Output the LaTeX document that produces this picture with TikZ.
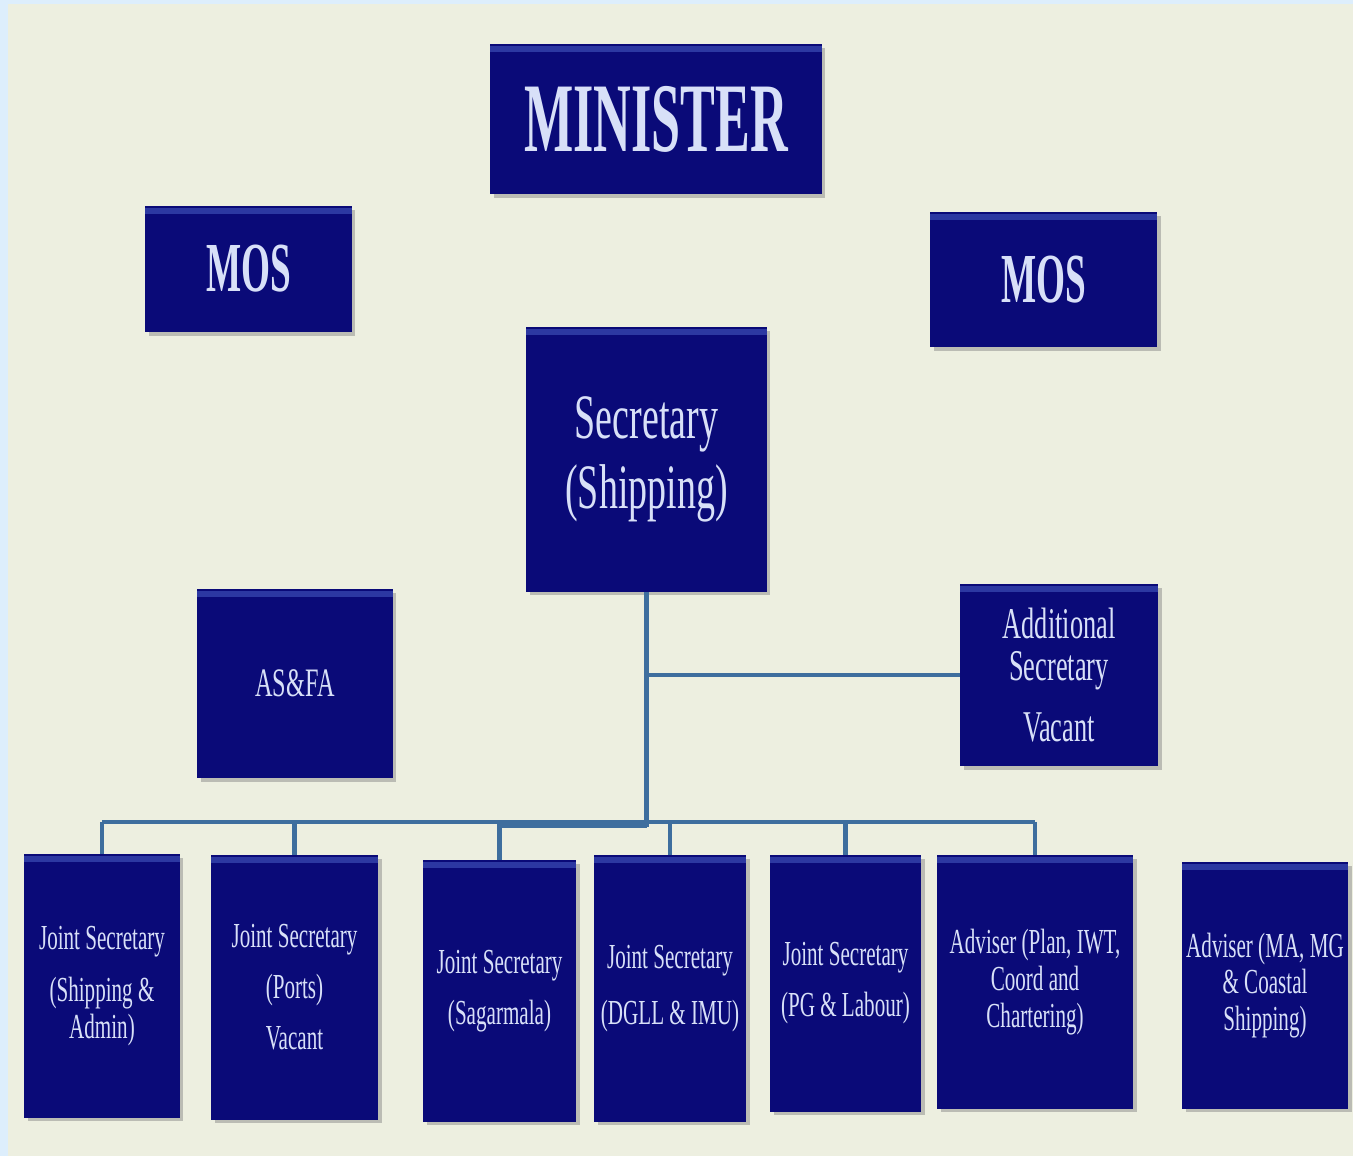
\documentclass[tikz,border=0pt]{standalone}
\usepackage{fontspec}
\setmainfont{Liberation Serif}[FakeStretch=0.6]
\newfontfamily\condbold{Liberation Serif}[FakeStretch=0.53]
\usetikzlibrary{shadows}

\definecolor{navy}{HTML}{0A0A78}
\definecolor{bevel}{HTML}{2C38A2}
\definecolor{postext}{HTML}{D8E0F8}
\definecolor{linkblue}{HTML}{3E6E9E}
\definecolor{cream}{HTML}{EDEFE0}
\definecolor{paleblue}{HTML}{DDEEFC}

\tikzset{
  post/.style={rectangle, fill=navy, text=postext, align=center, inner sep=0pt,
    drop shadow={shadow xshift=2pt, shadow yshift=-2pt, opacity=0.45},
    path picture={\fill[bevel]
      ([yshift=-0.04cm]path picture bounding box.north west) rectangle ([yshift=-0.16cm]path picture bounding box.north east);}},
  conn/.style={draw=linkblue, line width=2.3pt},
  lowpost/.style={post, font=\fontsize{20}{21}\selectfont}
}

\begin{document}
\begin{tikzpicture}[x=0.02cm, y=-0.02cm]
\fill[paleblue] (0,0) rectangle (1353,1156);
\fill[cream] (8,4) rectangle (1353,1156);
\useasboundingbox (0,0) rectangle (1353,1156);

\node[post, minimum width=6.64cm, minimum height=3.0cm, font=\condbold\bfseries\fontsize{56}{60}\selectfont] (minister) at (656,119) {MINISTER};
\node[post, minimum width=4.14cm, minimum height=2.52cm, font=\condbold\bfseries\fontsize{40}{44}\selectfont] (mosl) at (248.5,269) {MOS};
\node[post, minimum width=4.54cm, minimum height=2.7cm, font=\condbold\bfseries\fontsize{40}{44}\selectfont] (mosr) at (1043.5,279.5) {MOS};
\node[post, minimum width=4.82cm, minimum height=5.3cm, font=\fontsize{36}{40}\selectfont] (sec) at (646.5,459.5) {Secretary\\(Shipping)};
\node[post, minimum width=3.92cm, minimum height=3.78cm, font=\fontsize{23}{26}\selectfont] (asfa) at (295,683.5) {AS\&FA};
\node[post, minimum width=3.96cm, minimum height=3.64cm, font=\fontsize{25}{24}\selectfont] (addl) at (1059,675) {Additional\\Secretary\\[11pt]Vacant};

\node[lowpost, minimum width=3.12cm, minimum height=5.28cm] (js1) at (102,986) {Joint Secretary\\[9pt](Shipping \&\\Admin)};
\node[lowpost, minimum width=3.34cm, minimum height=5.3cm] (js2) at (294.5,987.5) {Joint Secretary\\[8pt](Ports)\\[8pt]Vacant};
\node[lowpost, minimum width=3.06cm, minimum height=5.24cm] (js3) at (499.5,991) {Joint Secretary\\[8pt](Sagarmala)};
\node[lowpost, minimum width=3.04cm, minimum height=5.34cm] (js4) at (670,988.5) {Joint Secretary\\[11pt](DGLL \& IMU)};
\node[lowpost, minimum width=3.02cm, minimum height=5.14cm] (js5) at (845.5,983.5) {Joint Secretary\\[8pt](PG \& Labour)};
\node[lowpost, minimum width=3.92cm, minimum height=5.08cm] (adv1) at (1035,982) {Adviser (Plan, IWT,\\Coord and\\Chartering)};
\node[lowpost, minimum width=3.32cm, minimum height=4.94cm] (adv2) at (1265,985.5) {Adviser (MA, MG\\\& Coastal\\Shipping)};

\coordinate (bus) at (646,822);
\draw[conn] (sec.south) -- (sec.south |- 0,827);
\draw[conn] (sec.south |- addl.west) -- (addl.west);
\draw[conn] (js1.north |- bus) -- (adv1.north |- bus);
\draw[conn] (js3.north |- 0,826) -- (sec.south |- 0,826);
\foreach \n in {js1,js2,js3,js4,js5,adv1}
  \draw[conn] (\n.north |- bus) -- (\n.north);
\end{tikzpicture}
\end{document}
